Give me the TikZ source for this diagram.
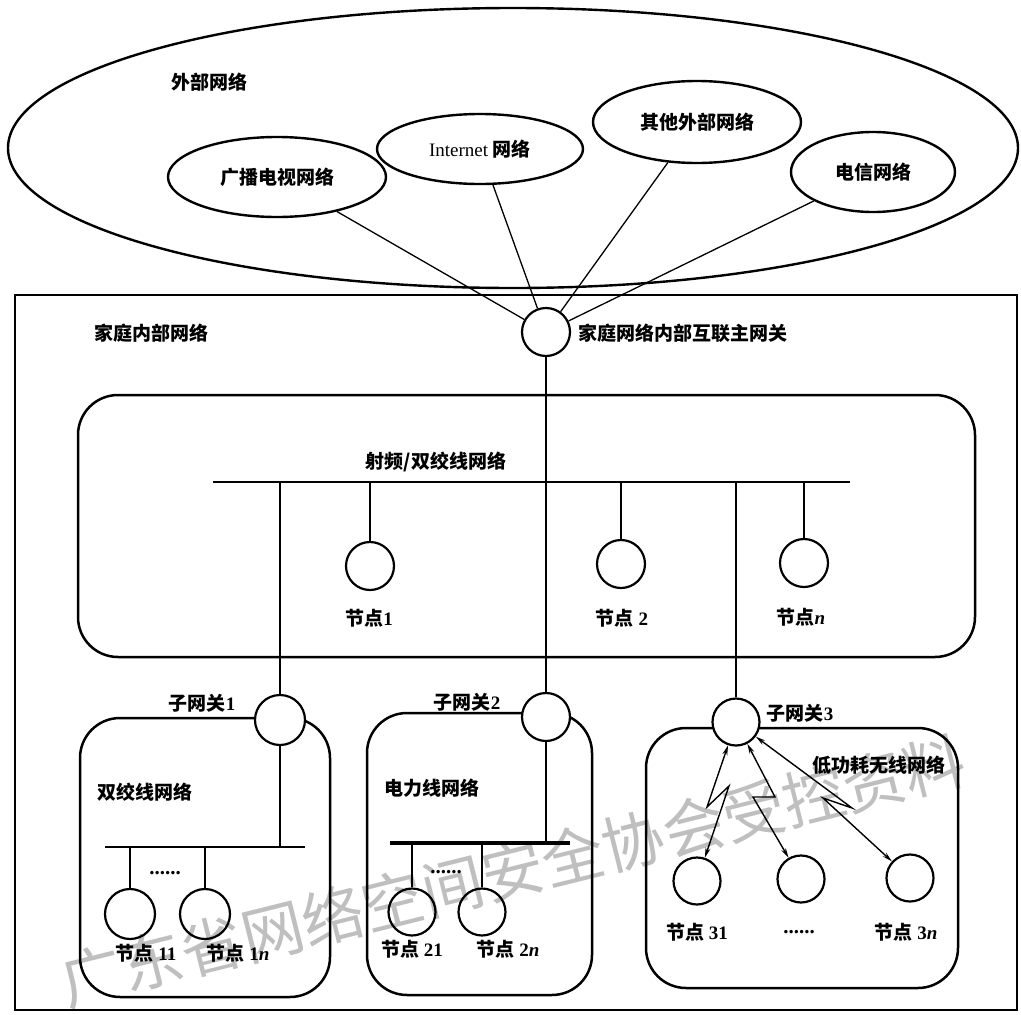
\documentclass[tikz,border=0pt]{standalone}
\usepackage{fontspec}
\setmainfont{Liberation Serif}
\newfontfamily\cjk{Noto Sans CJK SC}
\usetikzlibrary{shapes.geometric,arrows.meta}

\newcommand\lblfont{\fontsize{19}{21}\selectfont\bfseries}
\newcommand\zh[1]{{\cjk #1}}

\tikzset{
  net/.style={ellipse, draw, line width=2.4pt, inner sep=0pt, font=\lblfont},
  dev/.style={circle, draw, line width=2.2pt, minimum size=48pt, inner sep=0pt},
  hub/.style={circle, draw, line width=2.2pt, fill=white, minimum size=48pt, inner sep=0pt},
  lbl/.style={font=\lblfont, inner sep=0pt},
  dots/.style={inner sep=0pt, font=\fontsize{21}{21}\selectfont\bfseries},
  wire/.style={line width=1.3pt},
  bus/.style={line width=2.2pt},
  frame/.style={draw, line width=2.2pt},
  netbox/.style={draw, line width=2.5pt, rounded corners=40pt},
  zap/.style={line width=1.4pt, line join=miter,
    {Stealth[length=10pt,width=5pt]}-{Stealth[length=10pt,width=5pt]}},
}

\begin{document}
\begin{tikzpicture}[x=1pt,y=-1pt]
\useasboundingbox (0,0) rectangle (1021,1015);

% background watermark
\node[rotate=14, text=black!25, font=\cjk\fontsize{62}{62}\selectfont, inner sep=0pt]
  (wm) at (513,871) {广东省网络空间安全协会受控资料};

% ---------- external networks ----------
\node[net, minimum width=1010pt, minimum height=280pt] (ext) at (513,148) {};
\node[lbl] (extlbl) at (209,82) {\zh{外部网络}};
\node[net, minimum width=218pt, minimum height=80pt] (tv) at (277,177) {\zh{广播电视网络}};
\node[net, minimum width=206pt, minimum height=70pt] (inet) at (480,149) {{\mdseries Internet} \zh{网络}};
\node[net, minimum width=208pt, minimum height=82pt] (other) at (697,122) {\zh{其他外部网络}};
\node[net, minimum width=164pt, minimum height=80pt] (tel) at (873,172) {\zh{电信网络}};

% ---------- home network frame ----------
\draw[frame] (15,295) rectangle (1017,1010);
\node[lbl] (homelbl) at (151,333) {\zh{家庭内部网络}};

% main gateway
\node[hub] (gw) at (546,332) {};
\node[lbl, anchor=west] (gwlbl) at (578,333) {\zh{家庭网络内部互联主网关}};
\draw[wire] (tv) -- (gw);
\draw[wire] (inet) -- (gw);
\draw[wire] (other) -- (gw);
\draw[wire] (tel) -- (gw);

% ---------- RF / twisted pair backbone ----------
\draw[netbox] (78,395) rectangle (975,657);
\node[lbl] (rflbl) at (436,462) {\zh{射频/双绞线网络}};
\coordinate (busL) at (213,482);
\coordinate (busR) at (850,482);
\draw[bus] (busL) -- (busR);

\node[dev] (n1) at (370,566) {};
\node[dev] (n2) at (621,564) {};
\node[dev] (nn) at (804,563) {};
\draw[wire] (n1 |- busL) -- (n1);
\draw[wire] (n2 |- busL) -- (n2);
\draw[wire] (nn |- busL) -- (nn);
\node[lbl] (n1lbl) at (369,618) {\zh{节点}1};
\node[lbl] (n2lbl) at (622,618) {\zh{节点} 2};
\node[lbl] (nnlbl) at (801,617) {\zh{节点}\textit{n}};

% ---------- sub-network boxes ----------
\draw[netbox] (80,718) rectangle (330,997);
\draw[netbox] (367,713) rectangle (592,995);
\draw[netbox] (646,728) rectangle (958,988);

% sub-gateways
\node[hub, minimum size=50pt] (g1) at (280,720) {};
\node[hub] (g2) at (546,717) {};
\node[hub, minimum size=47pt] (g3) at (736,722) {};
\node[lbl] (g1lbl) at (202,703) {\zh{子网关}1};
\node[lbl] (g2lbl) at (467,702) {\zh{子网关}2};
\node[lbl] (g3lbl) at (800,713) {\zh{子网关}3};
\draw[wire] (g1 |- busL) -- (g1);
\draw[wire] (gw) -- (g2);
\draw[wire] (g3 |- busL) -- (g3);

% twisted pair sub-network
\node[lbl] (tplbl) at (145,792) {\zh{双绞线网络}};
\coordinate (b1L) at (105,847);
\coordinate (b1R) at (305,847);
\draw[bus, line width=2pt] (b1L) -- (b1R);
\draw[wire] (g1) -- (g1 |- b1L);
\node[dev, minimum size=50pt] (n11) at (130,914) {};
\node[dev, minimum size=50pt] (n1n) at (205,914) {};
\draw[wire] (n11 |- b1L) -- (n11);
\draw[wire] (n1n |- b1L) -- (n1n);
\node[dots] (d1) at (165,873) {......};
\node[lbl] (n11lbl) at (146,953) {\zh{节点} 11};
\node[lbl] (n1nlbl) at (238,953) {\zh{节点} 1\textit{n}};

% power line sub-network
\node[lbl] (pllbl) at (432,788) {\zh{电力线网络}};
\coordinate (b2L) at (390,843);
\coordinate (b2R) at (570,843);
\draw[bus, line width=3.2pt] (b2L) -- (b2R);
\draw[wire] (g2) -- (g2 |- b2L);
\node[dev, minimum size=47pt] (n21) at (412,912) {};
\node[dev, minimum size=47pt] (n2n) at (482,912) {};
\draw[wire] (n21 |- b2L) -- (n21);
\draw[wire] (n2n |- b2L) -- (n2n);
\node[dots] (d2) at (446,872) {......};
\node[lbl] (n21lbl) at (412,949) {\zh{节点} 21};
\node[lbl] (n2nlbl) at (508,949) {\zh{节点} 2\textit{n}};

% low-power wireless sub-network
\node[lbl] (wllbl) at (879,765) {\zh{低功耗无线网络}};
\node[dev, minimum size=47pt] (n31) at (697,881) {};
\node[dev, minimum size=47pt] (n32) at (801,879) {};
\node[dev, minimum size=47pt] (n3n) at (910,878) {};
\node[lbl] (n31lbl) at (697,932) {\zh{节点} 31};
\node[dots] (d3) at (799,932) {......};
\node[lbl] (n3nlbl) at (906,932) {\zh{节点} 3\textit{n}};

% wireless links (zigzag bolts)
\coordinate (z1a) at (707,807);
\coordinate (z1b) at (729,786);
\coordinate (z2a) at (775,797);
\coordinate (z2b) at (753,797);
\coordinate (z3a) at (852,808);
\coordinate (z3b) at (823,798);
\draw[zap] (g3) -- (z1a) -- (z1b) -- (n31);
\draw[zap] (g3) -- (z2a) -- (z2b) -- (n32);
\draw[zap] (g3) -- (z3a) -- (z3b) -- (n3n);

\end{tikzpicture}
\end{document}
